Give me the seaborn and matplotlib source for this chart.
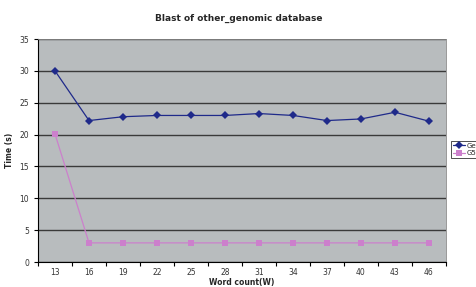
import matplotlib
matplotlib.use("Agg")
import matplotlib.pyplot as plt
import seaborn as sns
import pandas as pd
from matplotlib.ticker import FixedLocator, NullFormatter

word_count = ["13", "16", "19", "22", "25", "28", "31", "34", "37", "40", "43", "46"]
series_a = [30.0, 22.2, 22.8, 23.0, 23.0, 23.0, 23.3, 23.0, 22.2, 22.45, 23.5, 22.1]
series_b = [20.1, 3.0, 3.0, 3.0, 3.0, 3.0, 3.0, 3.0, 3.0, 3.0, 3.0, 3.0]
series_names = ["Ge", "G5"]

sns.set_theme(style="white")
plt.rcParams['font.family'] = ['DejaVu Sans']

df = pd.concat([
    pd.DataFrame({"w": word_count, "t": series_a, "s": series_names[0]}),
    pd.DataFrame({"w": word_count, "t": series_b, "s": series_names[1]}),
])

fig = plt.figure(figsize=(4.77, 2.87), dpi=100)
ax = fig.add_axes([38/477, 1-262/287, (446-38)/477, (262-39)/287])
ax.set_facecolor("#b8bcbe")

colors = {"Ge": "#1f2a8a", "G5": "#cc80cc"}
sns.lineplot(data=df, x="w", y="t", hue="s", style="s",
             markers={"Ge": "D", "G5": "s"}, dashes=False,
             palette=colors, ax=ax, linewidth=0.9, markersize=3.8,
             markeredgewidth=0, sort=False)

ax.set_xlim(-0.5, len(word_count) - 0.5)
ax.set_ylim(0, 35)
ax.set_yticks(range(0, 36, 5))
ax.yaxis.grid(True, color="#3a3a3a", linewidth=1.0)
ax.set_axisbelow(True)

ax.xaxis.set_minor_locator(FixedLocator([i - 0.5 for i in range(len(word_count) + 1)]))
ax.xaxis.set_minor_formatter(NullFormatter())
ax.tick_params(axis="x", which="major", length=0, labelsize=5.5, pad=4, colors="#333333")
ax.tick_params(axis="x", which="minor", length=3, width=0.8, color="black", bottom=True)
ax.tick_params(axis="y", which="major", length=3, width=0.8, labelsize=5.5, left=True, colors="#333333")
ax.tick_params(axis="y", color="black")

for side in ["left", "bottom"]:
    ax.spines[side].set_color("black")
    ax.spines[side].set_linewidth(0.8)
for side in ["top", "right"]:
    ax.spines[side].set_color("#888888")
    ax.spines[side].set_linewidth(0.6)

ax.set_xlabel("Word count(W)", fontsize=5.5, fontweight="bold", labelpad=1)
ax.set_ylabel("Time (s)", fontsize=5.5, fontweight="bold", labelpad=4)
fig.text(0.5, 1-18/287, "Blast of other_genomic database", ha="center", va="center",
         fontsize=6.5, fontweight="bold")

leg = ax.legend(title=None, loc="upper left", bbox_to_anchor=(451/477, 1-141/287),
                bbox_transform=fig.transFigure, fontsize=5, frameon=True,
                fancybox=False, borderpad=0.25, handlelength=1.8, labelspacing=0.2,
                handletextpad=0.2, borderaxespad=0)
leg.get_frame().set_edgecolor("black")
leg.get_frame().set_linewidth(0.6)

fig.savefig("out.png", dpi=100)
